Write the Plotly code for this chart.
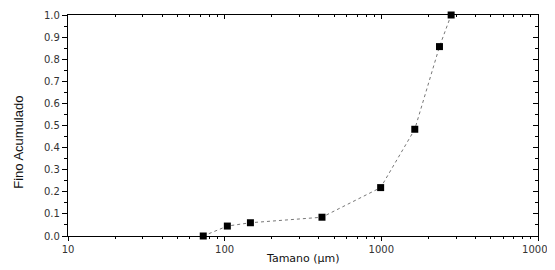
import plotly.graph_objects as go

tamano = [73, 104, 146, 418, 990, 1635, 2350, 2790]
fino = [0.0, 0.045, 0.06, 0.085, 0.219, 0.483, 0.857, 1.0]

x_ticks = [10, 100, 1000, 10000]
x_ticklabels = ["10", "100", "1000", "10000"]
x_minor = [m * 10**e for e in (1, 2, 3) for m in range(2, 10)]
y_ticks = [i / 10 for i in range(11)]
y_ticklabels = [f"{v:.1f}" for v in y_ticks]
y_minor = [0.05 + i / 10 for i in range(10)]

tick_font = "DejaVu Sans, Verdana, sans-serif"
title_font = "Liberation Sans, Arial, sans-serif"

fig = go.Figure()
fig.add_trace(go.Scatter(
    x=tamano, y=fino, mode="lines+markers",
    line=dict(color="#777777", width=1, dash="dot"),
    marker=dict(symbol="square", size=7, color="black"),
    showlegend=False, cliponaxis=False,
))
fig.add_trace(go.Scatter(x=[tamano[0]], y=[fino[0]], xaxis="x2", yaxis="y2",
                         mode="markers", marker=dict(opacity=0), showlegend=False,
                         hoverinfo="skip"))

xr = [1, 4]
yr = [0, 1.0]
common = dict(showgrid=False, zeroline=False, linecolor="black", linewidth=1.2,
              tickcolor="black", tickwidth=1, automargin=False, showline=True)

fig.update_layout(
    width=547, height=262,
    margin=dict(l=60, r=17, t=7, b=34),
    paper_bgcolor="white", plot_bgcolor="white",
    font=dict(family=tick_font, size=9, color="#333333"),
    xaxis=dict(type="log", range=xr, tickmode="array", tickvals=x_ticks,
               ticktext=x_ticklabels, ticks="outside", ticklen=4,
               minor=dict(tickmode="array", tickvals=x_minor, ticks="outside",
                          ticklen=2, tickcolor="black"),
               tickfont=dict(size=10), **common),
    yaxis=dict(range=yr, tickmode="array", tickvals=y_ticks, ticktext=y_ticklabels,
               ticks="outside", ticklen=5,
               minor=dict(tickmode="array", tickvals=y_minor, ticks="outside",
                          ticklen=3, tickcolor="black"),
               tickfont=dict(size=10), **common),
    xaxis2=dict(type="log", range=xr, overlaying="x", side="top", anchor="y",
                tickmode="array", tickvals=x_ticks, showticklabels=False,
                ticks="inside", ticklen=4,
                minor=dict(tickmode="array", tickvals=x_minor, ticks="inside",
                           ticklen=2, tickcolor="black"),
                **common),
    yaxis2=dict(range=yr, overlaying="y", side="right", anchor="x",
                tickmode="array", tickvals=y_ticks, showticklabels=False,
                ticks="inside", ticklen=5,
                minor=dict(tickmode="array", tickvals=y_minor, ticks="inside",
                           ticklen=3, tickcolor="black"),
                **common),
    annotations=[
        dict(text="Tamano (μm)", xref="paper", yref="paper", x=0.5, y=-0.1,
             xanchor="center", yanchor="middle", showarrow=False,
             font=dict(family=tick_font, size=11, color="#111111")),
        dict(text="Fino Acumulado", xref="paper", yref="paper", x=-0.107, y=0.425,
             xanchor="center", yanchor="middle", textangle=-90, showarrow=False,
             font=dict(family=title_font, size=13, color="#111111")),
    ],
)

fig.write_html("out.html")
